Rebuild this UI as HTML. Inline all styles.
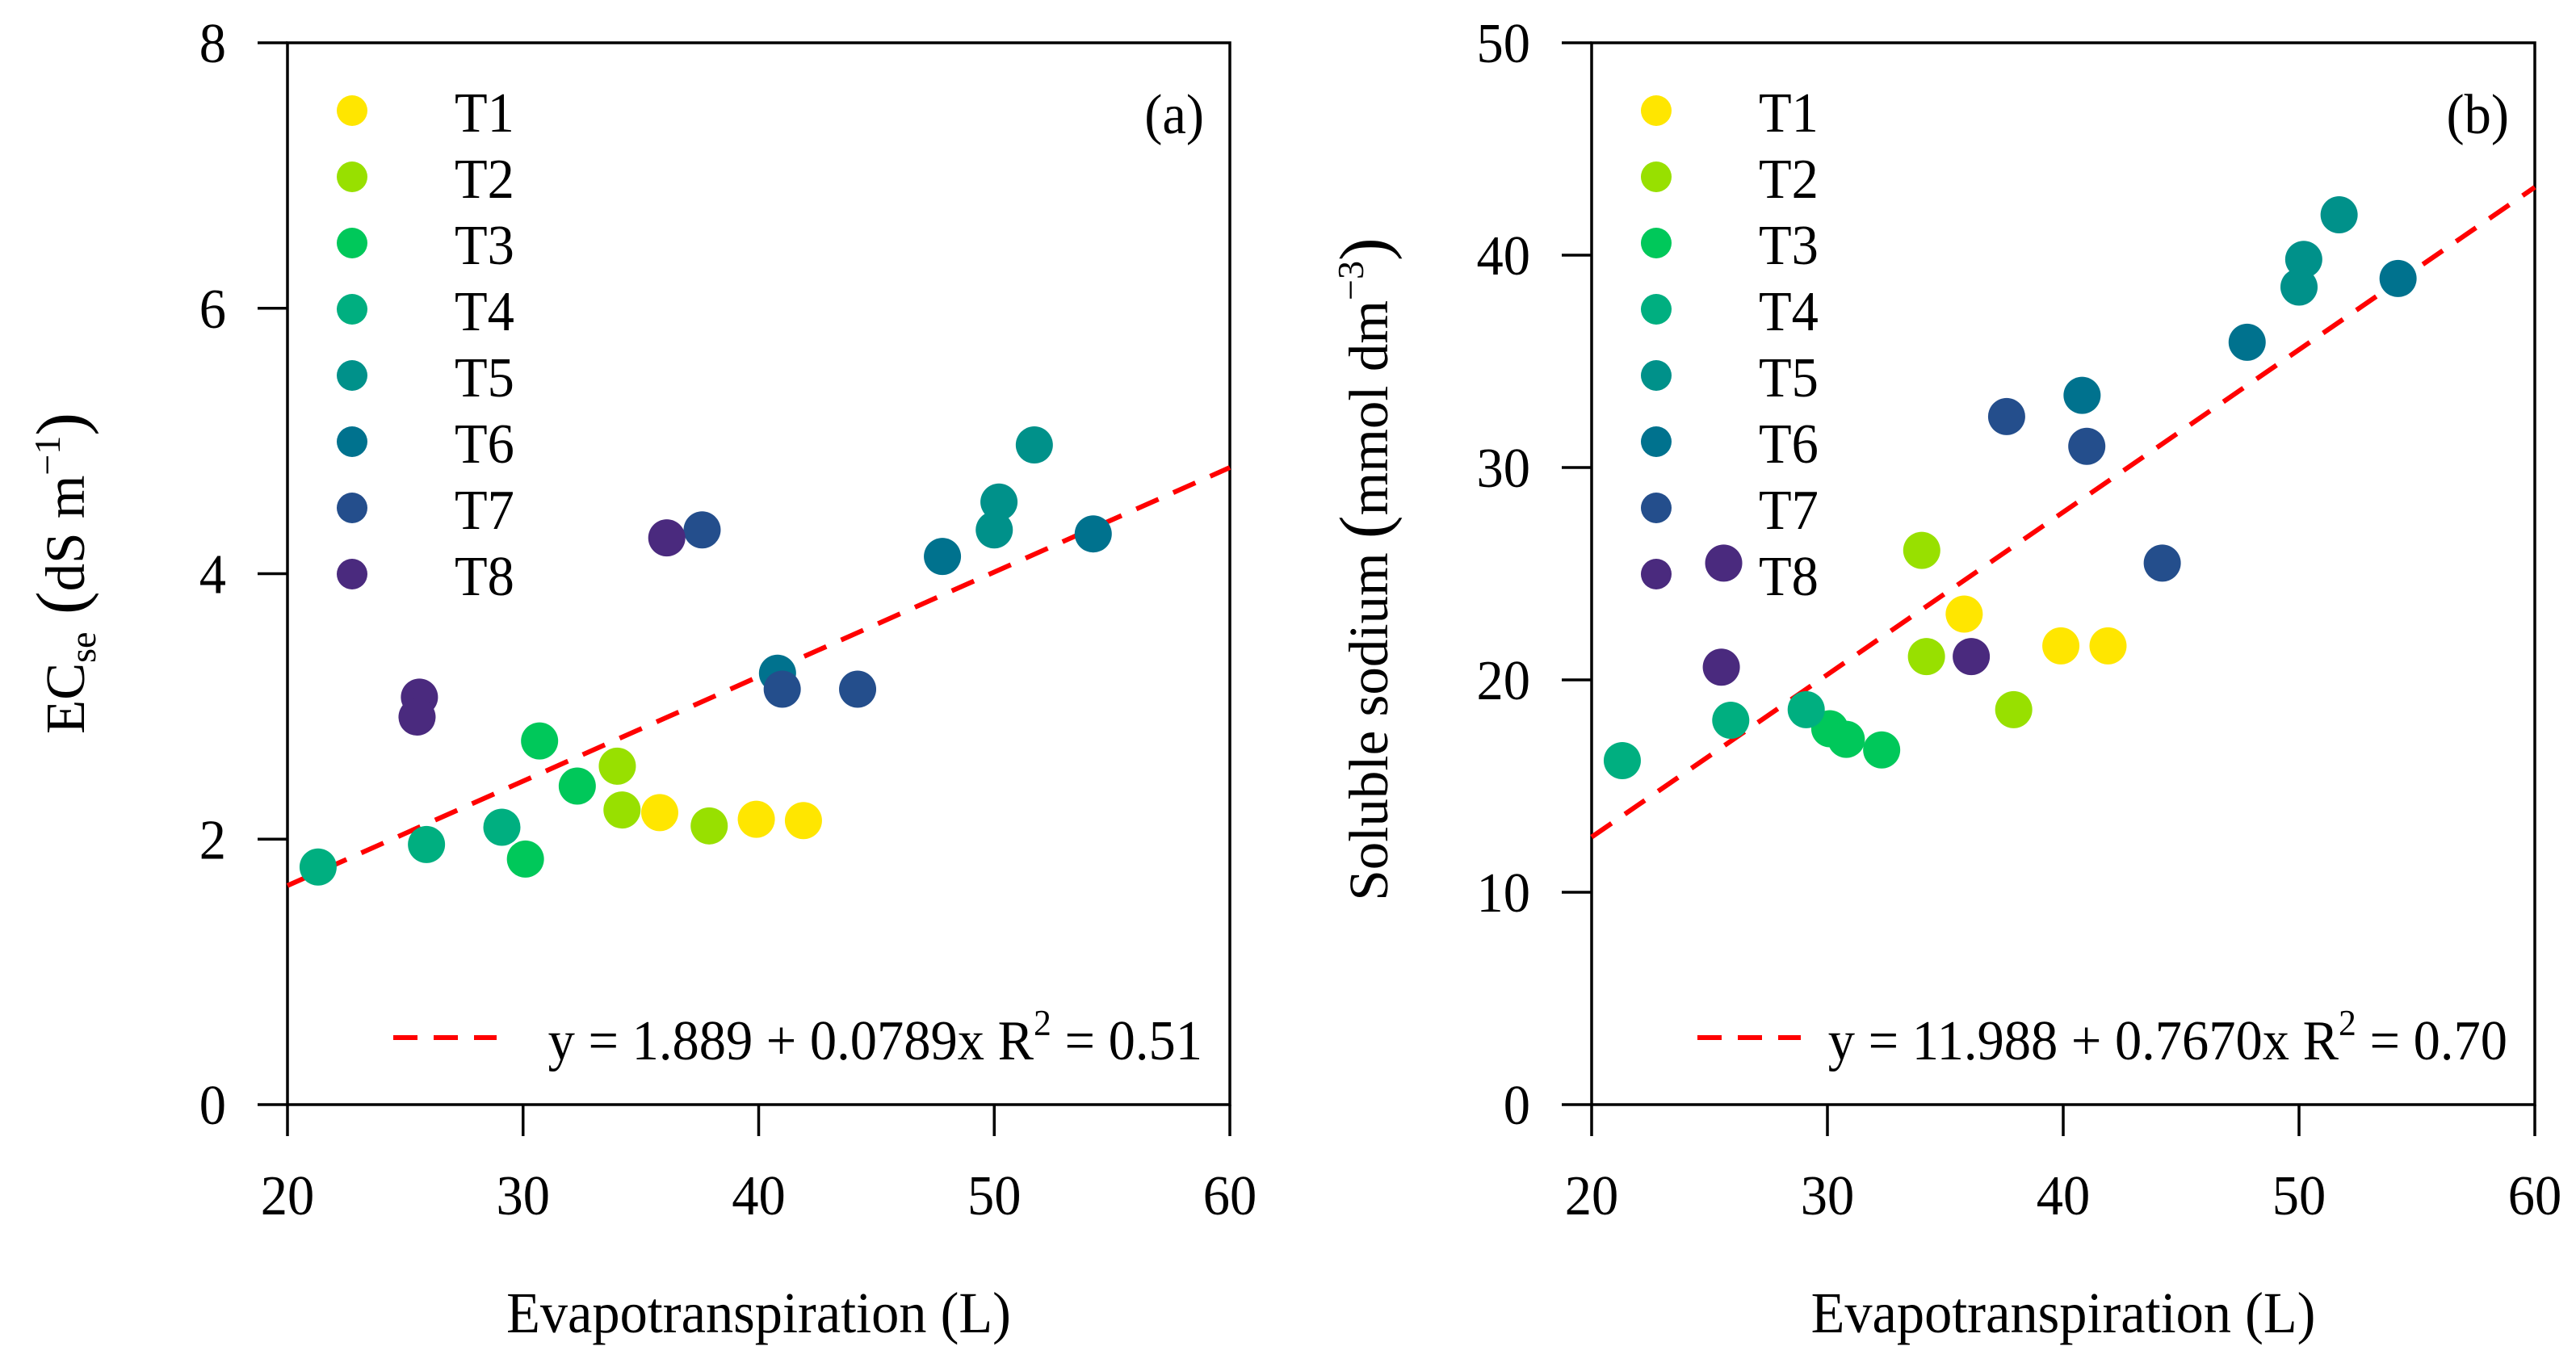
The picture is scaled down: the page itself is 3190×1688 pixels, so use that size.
<!DOCTYPE html>
<html><head><meta charset="utf-8"><style>
html,body{margin:0;padding:0;background:#fff;}
svg{display:block;font-family:"Liberation Serif",serif;}
</style></head><body>
<svg id="chart" width="3190" height="1688" viewBox="0 0 3190 1688" xmlns="http://www.w3.org/2000/svg"></svg>
<script>
const categories = ["T1","T2","T3","T4","T5","T6","T7","T8"];
const colors = ["#FFE600","#98E000","#00C85A","#00AF80","#00918A","#00728E","#244E8C","#4A2A7E"];
const etValues = [
  [35.8,39.9,41.9],[34.0,34.2,37.9],[30.7,32.3,30.1],[21.3,25.9,29.1],
  [50.2,50.0,51.7],[40.8,47.8,54.2],[41.0,44.2,37.6],[36.1,25.6,25.5]];
const ecValues = [
  [2.20,2.15,2.14],[2.55,2.22,2.10],[2.74,2.40,1.85],[1.79,1.96,2.09],
  [4.54,4.33,4.97],[3.25,4.13,4.30],[3.13,3.13,4.33],[4.27,3.07,2.92]];
const etValuesB = [
  [35.8,39.9,41.9],[34.0,34.2,37.9],[30.1,30.8,32.3],[21.3,25.9,29.1],
  [50.2,50.0,51.7],[40.8,47.8,54.2],[41.0,44.2,37.6],[25.6,25.5,36.1]];
const naValues = [
  [23.1,21.6,21.6],[26.1,21.1,18.6],[17.7,17.2,16.7],[16.2,18.1,18.6],
  [39.8,38.5,41.9],[33.4,35.9,38.9],[31.0,25.5,32.4],[25.5,20.6,21.1]];
const xTicks = [20,30,40,50,60];
const yTicksA = [0,2,4,6,8];
const yTicksB = [0,10,20,30,40,50];
const fitA = [1.65,4.80];   // fitted y at x=20 and x=60
const fitB = [12.6,43.2];

const svg = document.getElementById('chart');
const NS = 'http://www.w3.org/2000/svg';
const SX = 0.95;
function mk(tag, attrs, parent){
  const e = document.createElementNS(NS, tag);
  for (const k in attrs) e.setAttribute(k, attrs[k]);
  (parent||svg).appendChild(e); return e;
}
function txt(x, y, size, anchor, parent){
  return mk('text',{x:0,y:0,'font-size':size,'text-anchor':anchor,transform:'translate('+x+','+y+') scale('+SX+',1)'},parent);
}

function panel(opt){
  const g = mk('g', {});
  
  
  const L=opt.left, R=opt.right, T=53, B=1368;
  const sx = v => L + (v-20)/40*(R-L);
  const sy = v => B - (v-opt.ymin)/(opt.ymax-opt.ymin)*(B-T);
  const box = mk('rect', {x:L,y:T,width:R-L,height:B-T,fill:'none',stroke:'#000','stroke-width':3.5}, g);
  
  
  xTicks.forEach(v=>{
    const x=sx(v);
    const t=mk('line',{x1:x,y1:B,x2:x,y2:B+39,stroke:'#000','stroke-width':3.5},g);
    
    
    const lb=txt(x,1504,70,'middle',g);
    lb.textContent=v;
    
    
  });
  opt.yticks.forEach(v=>{
    const y=sy(v);
    const t=mk('line',{x1:L-37,y1:y,x2:L,y2:y,stroke:'#000','stroke-width':3.5},g);
    
    
    const lb=txt(L-76,y+24,70,'end',g);
    lb.textContent=v;
    
    
  });
  const ln=mk('line',{x1:sx(20),y1:sy(opt.fit[0]),x2:sx(60),y2:sy(opt.fit[1]),stroke:'#ff0000','stroke-width':6,'stroke-dasharray':'30 20'},g);
  
  
  categories.forEach((c,i)=>{
    opt.xs[i].forEach((xv,j)=>{
      const p=mk('circle',{cx:sx(xv),cy:sy(opt.ys[i][j]),r:23,fill:colors[i]},g);
      
      
    });
  });
  categories.forEach((c,i)=>{
    const cy=137+i*82;
    const d=mk('circle',{cx:L+80,cy:cy,r:19,fill:colors[i]},g);
    
    
    const t=txt(L+207,cy+26,70,'start',g);
    t.textContent=c;
    
    
  });
  const pl=txt(R-32,165,70,'end',g);
  pl.textContent=opt.label;
  
  
  const el=mk('line',{x1:L+131,y1:1285,x2:L+259,y2:1285,stroke:'#ff0000','stroke-width':6,'stroke-dasharray':'30 20'},g);
  
  
  const eq=txt(R-34,1312,70,'end',g);
  eq.innerHTML=opt.eq+' R<tspan dy="-30" font-size="46">2</tspan><tspan dy="30"> = '+opt.r2+'</tspan>';
  
  
  const xt=txt((L+R)/2,1650,72,'middle',g);
  xt.textContent='Evapotranspiration (L)';
  
  
  const yt=mk('text',{x:0,y:0,'font-size':69,'text-anchor':'middle',transform:'translate('+opt.ytx+','+opt.yty+') rotate(-90)'},g);
  yt.innerHTML=opt.ytitle;
  
  
}

panel({name:'panel-a',left:356,right:1523,ymin:0,ymax:8,yticks:yTicksA,xs:etValues,ys:ecValues,fit:fitA,
  label:'(a)',eq:'y = 1.889 + 0.0789x',r2:'0.51',ytx:104,yty:710,
  ytitle:'EC<tspan font-size="46" dy="14">se</tspan><tspan dy="-14" font-size="86"> (</tspan>dS m<tspan dy="-30" font-size="46">−1</tspan><tspan dy="30" font-size="86">)</tspan>'});
panel({name:'panel-b',left:1971,right:3139,ymin:0,ymax:50,yticks:yTicksB,xs:etValuesB,ys:naValues,fit:fitB,
  label:'(b)',eq:'y = 11.988 + 0.7670x',r2:'0.70',ytx:1718,yty:705,
  ytitle:'Soluble sodium <tspan font-size="86">(</tspan>mmol dm<tspan dy="-30" font-size="46">−3</tspan><tspan dy="30" font-size="86">)</tspan>'});
</script>
</body></html>
